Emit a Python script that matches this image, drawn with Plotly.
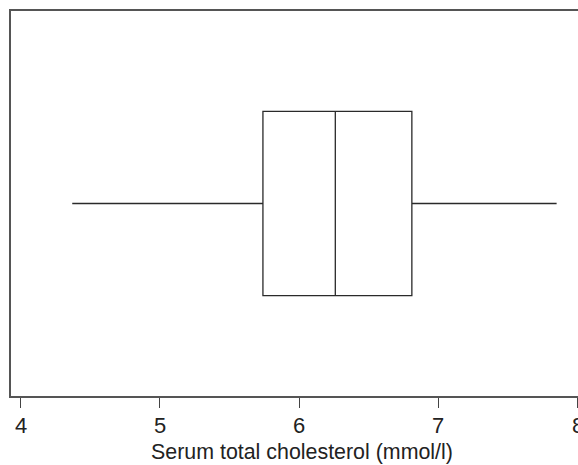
import plotly.graph_objects as go

# Five-number summary of serum total cholesterol (mmol/l)
lower_whisker = [4.37]
quartile_1 = [5.74]
median = [6.26]
quartile_3 = [6.81]
upper_whisker = [7.85]
tick_values = [4, 5, 6, 7, 8]
tick_labels = ["4", "5", "6", "7", "8"]
x_title = "Serum total cholesterol (mmol/l)"

fig = go.Figure()
fig.add_trace(go.Box(
    y=[0],
    orientation="h",
    lowerfence=lower_whisker,
    q1=quartile_1,
    median=median,
    q3=quartile_3,
    upperfence=upper_whisker,
    width=0.958,
    whiskerwidth=0,
    fillcolor="white",
    line=dict(color="#2a2a2a", width=1.3),
    boxpoints=False,
    hoverinfo="skip",
    showlegend=False,
))

# Tick labels as annotations so the one at the right edge is kept (and clipped)
for v, t in zip(tick_values, tick_labels):
    fig.add_annotation(
        x=v, y=0, xref="x", yref="paper",
        text=t, showarrow=False,
        xanchor="center", yanchor="top",
        yshift=-15,
        font=dict(size=22, color="#222"),
    )

# Axis title, centred on the full axis (which runs past the right edge)
fig.add_annotation(
    x=0.5, y=0, xref="paper", yref="paper",
    text=x_title, showarrow=False,
    xanchor="center", yanchor="top",
    xshift=7, yshift=-42,
    font=dict(size=21.4, color="#222"),
)

fig.update_layout(
    width=578,
    height=465,
    margin=dict(l=11, r=0, t=11, b=69),
    paper_bgcolor="white",
    plot_bgcolor="white",
    font=dict(family="Liberation Sans, Arial, sans-serif", size=21, color="#222"),
    xaxis=dict(
        range=[3.930, 8.0036],
        tickvals=tick_values,
        showticklabels=False,
        ticks="outside",
        ticklen=10,
        tickwidth=1.2,
        tickcolor="#444",
        showline=True,
        mirror=True,
        linecolor="#555",
        linewidth=1.5,
        showgrid=False,
        zeroline=False,
        automargin=False,
    ),
    yaxis=dict(
        range=[-1, 1],
        showline=True,
        mirror=False,
        linecolor="#555",
        linewidth=1.5,
        showticklabels=False,
        ticks="",
        showgrid=False,
        zeroline=False,
        automargin=False,
    ),
)

fig.write_html("out.html")
